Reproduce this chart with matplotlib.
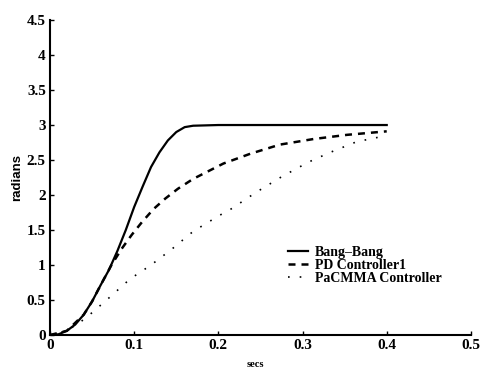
import matplotlib
matplotlib.use("Agg")
import matplotlib.pyplot as plt

t_bang = [0, 0.01, 0.02, 0.03, 0.04, 0.05, 0.06, 0.07, 0.08, 0.09, 0.10, 0.11, 0.12, 0.13, 0.14, 0.15, 0.16, 0.17, 0.2, 0.3, 0.4]
y_bang = [0, 0.01, 0.06, 0.15, 0.29, 0.48, 0.71, 0.93, 1.2, 1.5, 1.83, 2.12, 2.4, 2.61, 2.78, 2.9, 2.97, 2.99, 3.0, 3.0, 3.0]

t_pd = [0, 0.02, 0.04, 0.05, 0.06, 0.073, 0.085, 0.097, 0.109, 0.123, 0.137, 0.152, 0.17, 0.206, 0.238, 0.273, 0.313, 0.353, 0.4]
y_pd = [0, 0.06, 0.29, 0.48, 0.71, 1.0, 1.23, 1.43, 1.61, 1.8, 1.95, 2.09, 2.23, 2.45, 2.59, 2.72, 2.8, 2.86, 2.91]

t_pac = [0, 0.02, 0.04, 0.05, 0.07, 0.095, 0.12, 0.145, 0.17, 0.2, 0.215, 0.245, 0.275, 0.307, 0.333, 0.364, 0.4]
y_pac = [0, 0.06, 0.22, 0.32, 0.53, 0.8, 1.0, 1.23, 1.48, 1.7, 1.8, 2.04, 2.26, 2.47, 2.61, 2.76, 2.85]

labels = ["Bang\u2013Bang", "PD Controller1", "PaCMMA Controller"]
xticks = [0, 0.1, 0.2, 0.3, 0.4, 0.5]
xticklabels = ["0", "0.1", "0.2", "0.3", "0.4", "0.5"]
yticks = [0, 0.5, 1, 1.5, 2, 2.5, 3, 3.5, 4, 4.5]
yticklabels = ["0", "0.5", "1", "1.5", "2", "2.5", "3", "3.5", "4", "4.5"]

plt.rcParams['font.family'] = ['Liberation Serif', 'DejaVu Serif']

fig = plt.figure(figsize=(4.81, 3.71), dpi=100)
ax = fig.add_axes([0.104, 0.097, 0.875, 0.849])

ax.plot(t_bang, y_bang, color='black', lw=1.6, ls='-', label=labels[0])
ax.plot(t_pd, y_pd, color='black', lw=1.8, ls=(0, (2.8, 2.4)), label=labels[1])
ax.plot(t_pac, y_pac, color='black', lw=1.2, ls=(0, (1, 6)), label=labels[2])

ax.set_xlim(0, 0.5)
ax.set_ylim(0, 4.5)
ax.set_xticks(xticks)
ax.set_xticklabels(xticklabels, fontsize=11, fontweight='bold')
ax.set_yticks(yticks)
ax.set_yticklabels(yticklabels, fontsize=11, fontweight='bold')
ax.tick_params(direction='in', length=3, width=1, pad=3)

for s in ['top', 'right']:
    ax.spines[s].set_visible(False)
for s in ['left', 'bottom']:
    ax.spines[s].set_linewidth(1.5)

ax.set_xlabel("secs", fontsize=7.5, fontweight='bold')
ax.xaxis.set_label_coords(0.489, -0.08)
ax.set_ylabel("radians", fontsize=9.5, fontweight='bold', family=['Liberation Sans', 'DejaVu Sans'])
ax.yaxis.set_label_coords(-0.063, 0.5)

leg = ax.legend(loc='upper left', bbox_to_anchor=(0.565, 0.282), frameon=False,
                prop={'family': 'Liberation Serif', 'weight': 'bold', 'size': 10},
                handlelength=1.45, handletextpad=0.5, labelspacing=0.0, borderpad=0,
                borderaxespad=0)

fig.savefig("out.png", dpi=100)
